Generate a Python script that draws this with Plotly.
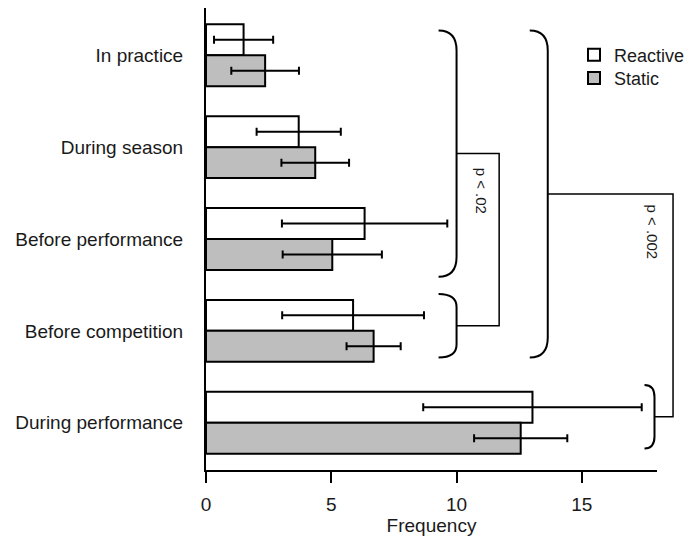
import plotly.graph_objects as go

# ---- data ----
categories = ["In practice", "During season", "Before performance",
              "Before competition", "During performance"]
reactive_mean = [1.5, 3.7, 6.33, 5.87, 13.03]
reactive_err = [1.18, 1.68, 3.3, 2.83, 4.36]
static_mean = [2.36, 4.36, 5.04, 6.69, 12.56]
static_err = [1.35, 1.35, 1.98, 1.08, 1.86]
x_ticks = [0, 5, 10, 15]
p_labels = ["p < .02", "p < .002"]

XMAX = 18
Y_TOP, Y_BOT = -0.515, 4.515  # category index range (reversed axis)
W, H = 451, 462               # plot area in pixels

FONT = "Liberation Sans, Arial, sans-serif"

fig = go.Figure()
fig.add_trace(go.Bar(
    name="Reactive", y=categories, x=reactive_mean, orientation="h",
    marker=dict(color="white", line=dict(color="black", width=2)),
    error_x=dict(type="data", array=reactive_err, color="black",
                 thickness=2, width=4),
    legend="legend",
))
fig.add_trace(go.Bar(
    name="Static", y=categories, x=static_mean, orientation="h",
    marker=dict(color="#BEBEBE", line=dict(color="black", width=2)),
    error_x=dict(type="data", array=static_err, color="black",
                 thickness=2, width=4),
    legend="legend2",
))


def px(x):
    return x / XMAX


def py(c):
    return (Y_BOT - c) / (Y_BOT - Y_TOP)


def bracket(x, c0, c1, cdx, cdy):
    xv = px(x)
    xe = xv - cdx / W
    yt, yb = py(c0), py(c1)
    ry = cdy / H
    return (f"M {xe},{yt} Q {xv},{yt} {xv},{yt - ry} "
            f"L {xv},{yb + ry} Q {xv},{yb} {xe},{yb}")


# bracket definitions: x (data), top/bottom category index, curl size px
brackets = [
    (10.0, -0.27, 2.41, 18, 20),
    (10.0, 2.60, 3.29, 18, 13),
    (13.64, -0.27, 3.29, 18, 20),
    (17.9, 3.59, 4.28, 10, 12),
]
shapes = []
for b in brackets:
    shapes.append(dict(type="path", path=bracket(*b), xref="paper",
                       yref="paper", line=dict(color="black", width=2)))

# connectors between bracket pairs
connectors = [
    (brackets[0], brackets[1], 11.70),
    (brackets[2], brackets[3], 18.64),
]
for a, b, xr in connectors:
    ya = py((a[1] + a[2]) / 2)
    yb = py((b[1] + b[2]) / 2)
    path = (f"M {px(a[0])},{ya} L {px(xr)},{ya} L {px(xr)},{yb} "
            f"L {px(b[0])},{yb}")
    shapes.append(dict(type="path", path=path, xref="paper", yref="paper",
                       line=dict(color="black", width=1.5)))

annotations = [
    dict(text=p_labels[0], x=px(10.98), y=py(1.475), xref="paper",
         yref="paper", showarrow=False, textangle=90,
         xanchor="center", yanchor="middle",
         font=dict(family=FONT, size=15, color="#1a1a1a")),
    dict(text=p_labels[1], x=px(17.83), y=py(1.926), xref="paper",
         yref="paper", showarrow=False, textangle=90,
         xanchor="center", yanchor="middle",
         font=dict(family=FONT, size=15, color="#1a1a1a")),
]

legend_common = dict(xanchor="left", yanchor="middle",
                     bgcolor="rgba(0,0,0,0)",
                     font=dict(family=FONT, size=18, color="#1a1a1a"),
                     itemwidth=30)

fig.update_layout(
    width=686, height=542,
    margin=dict(l=206, r=29, t=8, b=72, pad=0, autoexpand=False),
    paper_bgcolor="white", plot_bgcolor="white",
    barmode="group", bargap=0.326, bargroupgap=0,
    font=dict(family=FONT, size=19, color="#1a1a1a"),
    shapes=shapes, annotations=annotations,
    showlegend=True,
    legend=dict(x=0.816, y=0.898, **legend_common),
    legend2=dict(x=0.816, y=0.848, **legend_common),
)
fig.update_xaxes(
    range=[0, XMAX], tickvals=x_ticks, ticktext=[str(t) for t in x_ticks],
    showline=True, linecolor="black", linewidth=2, showgrid=False,
    zeroline=False, ticks="outside", ticklen=11, tickwidth=2,
    tickcolor="black", ticklabelstandoff=5, automargin=False,
    title=dict(text="Frequency", standoff=0,
               font=dict(family=FONT, size=19, color="#1a1a1a")),
)
fig.update_yaxes(
    type="category", categoryorder="array", categoryarray=categories,
    range=[Y_BOT, Y_TOP], showline=True, linecolor="black", linewidth=2,
    showgrid=False, zeroline=False, ticks="", ticklabelstandoff=17,
    automargin=False,
)

fig.write_html("out.html", config={"displayModeBar": False},
               post_script="document.body.style.margin='0px';")
